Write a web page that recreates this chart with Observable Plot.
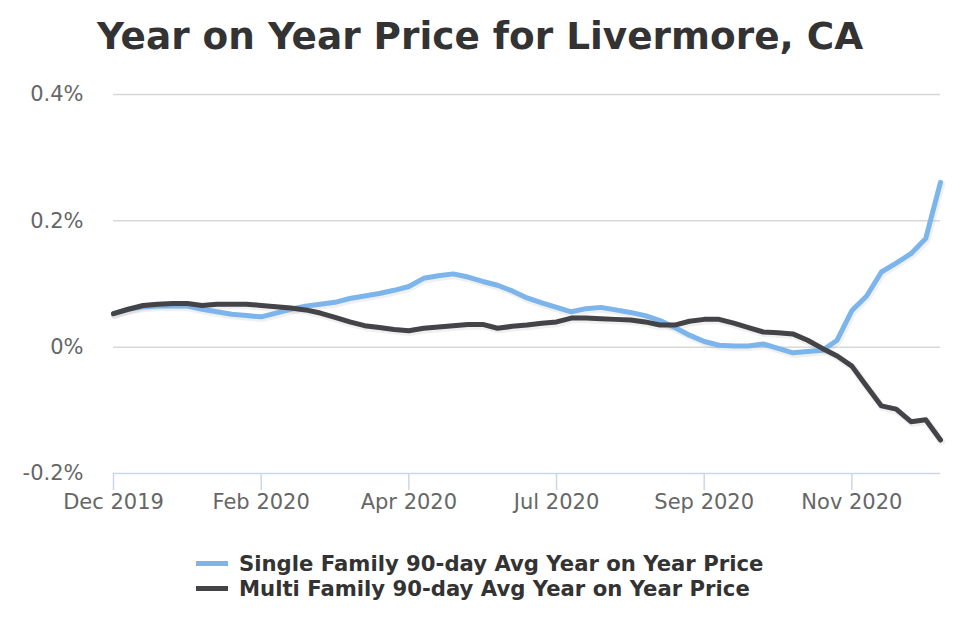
<!DOCTYPE html>
<html>
<head>
<meta charset="utf-8">
<script src="https://cdn.jsdelivr.net/npm/d3@7"></script>
<script src="https://cdn.jsdelivr.net/npm/@observablehq/plot@0.6"></script>
<style>
  html, body { margin: 0; padding: 0; background: #fff; }
  #wrap { position: relative; width: 960px; height: 640px; overflow: hidden; font-family: "DejaVu Sans", sans-serif; }
  #title { position: absolute; left: 0; width: 960px; top: 11px; text-align: center; font-weight: bold; font-size: 37.4px; color: #333; line-height: 50px; }
  #chart { position: absolute; left: 0; top: 0; }
  #legend { position: absolute; left: 196px; top: 551px; font-weight: bold; font-size: 21.2px; color: #333; }
  .item { display: flex; align-items: center; height: 25px; }
  .sw { width: 32px; height: 4.5px; margin-right: 11px; }
</style>
</head>
<body>
<div id="wrap">
  <div id="chart"></div>
  <div id="title">Year on Year Price for Livermore, CA</div>
  <div id="legend"></div>
</div>
<script>
// Data (values in percent)
const singleFamily = [0.053, 0.060, 0.064, 0.065, 0.065, 0.065, 0.060, 0.056, 0.052, 0.050,
  0.048, 0.054, 0.060, 0.065, 0.068, 0.071, 0.077, 0.081, 0.085, 0.090,
  0.096, 0.109, 0.113, 0.116, 0.111, 0.104, 0.098, 0.089, 0.078, 0.070,
  0.063, 0.056, 0.061, 0.063, 0.059, 0.055, 0.050, 0.042, 0.031, 0.019,
  0.009, 0.003, 0.002, 0.002, 0.005, -0.002, -0.009, -0.007, -0.005, 0.011,
  0.058, 0.081, 0.119, 0.133, 0.148, 0.172, 0.261];
const multiFamily = [0.053, 0.060, 0.066, 0.068, 0.069, 0.069, 0.066, 0.068, 0.068, 0.068,
  0.066, 0.064, 0.062, 0.059, 0.054, 0.047, 0.040, 0.034, 0.031, 0.028,
  0.026, 0.030, 0.032, 0.034, 0.036, 0.036, 0.030, 0.033, 0.035, 0.038,
  0.040, 0.046, 0.046, 0.045, 0.044, 0.043, 0.040, 0.035, 0.035, 0.041,
  0.044, 0.044, 0.038, 0.031, 0.024, 0.023, 0.021, 0.011, -0.002, -0.014,
  -0.030, -0.062, -0.093, -0.098, -0.118, -0.115, -0.147];
const tickIndex = [0, 10, 20, 30, 40, 50];
const tickLabels = ["Dec 2019", "Feb 2020", "Apr 2020", "Jul 2020", "Sep 2020", "Nov 2020"];
const yTicks = [-0.2, 0, 0.2, 0.4];
const seriesNames = ["Single Family 90-day Avg Year on Year Price", "Multi Family 90-day Avg Year on Year Price"];
const seriesColors = ["#7cb5ec", "#434348"];

const rows = [];
singleFamily.forEach((v, i) => rows.push({i, v, s: seriesNames[0]}));
multiFamily.forEach((v, i) => rows.push({i, v, s: seriesNames[1]}));

const fmtY = d => d === 0 ? "0%" : (d < 0 ? "-" : "") + Math.abs(d).toFixed(1) + "%";
const labelOf = new Map(tickIndex.map((t, k) => [t, tickLabels[k]]));

const plot = Plot.plot({
  width: 960,
  height: 530,
  marginTop: 94,
  marginBottom: 57,
  marginLeft: 113,
  marginRight: 20,
  style: {fontFamily: "DejaVu Sans, sans-serif", fontSize: "21px", background: "#fff"},
  x: {type: "linear", domain: [0, singleFamily.length - 1]},
  y: {domain: [-0.2, 0.4]},
  color: {domain: seriesNames, range: seriesColors},
  marks: [
    Plot.gridY([0, 0.2, 0.4], {stroke: "#d8d8d8", strokeOpacity: 1, strokeWidth: 1.5}),
    Plot.ruleY([-0.2], {stroke: "#ccd6eb", strokeWidth: 1.5}),
    Plot.axisY(yTicks, {tickSize: 0, tickPadding: 30, tickFormat: fmtY, fill: "#666", fontSize: 21, label: null}),
    Plot.axisX(tickIndex, {tickSize: 17, tickPadding: 4, tickFormat: d => labelOf.get(d), stroke: "#ccd6eb", strokeWidth: 1.5, fill: "#666", fontSize: 21, label: null}),
    Plot.line(rows, {x: "i", y: "v", z: "s", stroke: "#000", strokeOpacity: 0.06, strokeWidth: 7.5, dx: 1, dy: 1.5}),
    Plot.line(rows, {x: "i", y: "v", z: "s", stroke: "s", strokeWidth: 5, strokeLinejoin: "round", strokeLinecap: "round"})
  ]
});
document.getElementById("chart").appendChild(plot);

const legend = document.getElementById("legend");
seriesNames.forEach((name, k) => {
  const it = document.createElement("div");
  it.className = "item";
  const sw = document.createElement("span");
  sw.className = "sw";
  sw.style.background = seriesColors[k];
  const tx = document.createElement("span");
  tx.textContent = name;
  it.appendChild(sw);
  it.appendChild(tx);
  legend.appendChild(it);
});
</script>
</body>
</html>
